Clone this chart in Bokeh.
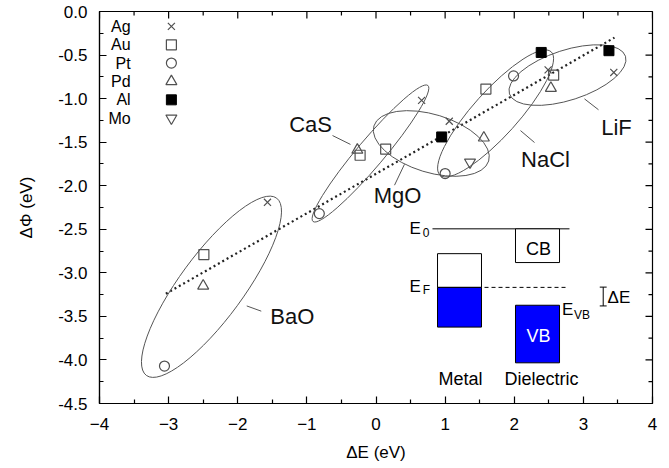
from bokeh.plotting import figure
from bokeh.models import Range1d, FixedTicker, NumeralTickFormatter
from bokeh.embed import file_html
from bokeh.resources import INLINE
from bokeh.core.properties import value

FONT = "Liberation Sans"

# ---------------- data ----------------
metals = ["Ag", "Au", "Pt", "Pd", "Al", "Mo"]
ag_x = [-1.57, 0.66, 1.06, 2.49, 3.44]
ag_y = [-2.19, -1.02, -1.26, -0.67, -0.70]
au_x = [-2.49, -0.23, 0.14, 1.59, 2.57]
au_y = [-2.79, -1.65, -1.58, -0.89, -0.73]
pt_x = [-3.06, -0.82, 1.00, 1.99]
pt_y = [-4.07, -2.32, -1.86, -0.74]
pd_x = [-2.50, -0.27, 1.56, 2.53]
pd_y = [-3.15, -1.59, -1.45, -0.88]
al_x = [0.95, 2.39, 3.37]
al_y = [-1.44, -0.47, -0.45]
mo_x = [1.36]
mo_y = [-1.73]

fit_x = [-3.04, 3.45]
fit_y = [-3.24, -0.30]

# dielectric groups (ellipses): centre in data, size in screen px, angle in deg
groups = ["BaO", "CaS", "MgO", "NaCl", "LiF"]
ell_x = [-2.38, -0.08, 0.80, 1.73, 2.77]
ell_y = [-3.16, -1.63, -1.515, -1.17, -0.73]
ell_w = [220, 178, 120, 166, 122]
ell_h = [64, 27, 58, 45, 50]
ell_a = [53.7, 49.8, -17, 48, 18]

grp_lx = [-1.53, -0.947, 0.311, 2.452, 3.479]
grp_ly = [-3.50, -1.30, -2.108, -1.697, -1.333]
grp_align = ["left", "center", "center", "center", "center"]
call_x0 = [-1.87, -0.629, 0.412, 2.09, 3.016]
call_y0 = [-3.38, -1.424, -1.754, -1.367, -1.003]
call_x1 = [-1.66, -0.369, 0.268, 2.293, 3.219]
call_y1 = [-3.44, -1.526, -1.994, -1.504, -1.128]

x_ticks = [-4, -3, -2, -1, 0, 1, 2, 3, 4]
x_minor = [-3.5, -2.5, -1.5, -0.5, 0.5, 1.5, 2.5, 3.5]
y_ticks = [-4.5, -4.0, -3.5, -3.0, -2.5, -2.0, -1.5, -1.0, -0.5, 0.0]
y_minor = [-4.25, -3.75, -3.25, -2.75, -2.25, -1.75, -1.25, -0.75, -0.25]

GRAY = "#505050"
BLUE = "#0000ff"

X0, X1, Y0, Y1 = -4, 4, -4.5, 0
W, H = 660, 464
BL, BR, BT, BB = 99, 8, 11, 57
FW, FH = W - BL - BR, H - BT - BB
DX = (X1 - X0) / FW   # data units per px
DY = (Y1 - Y0) / FH

p = figure(width=W, height=H, x_range=Range1d(X0, X1), y_range=Range1d(Y0, Y1),
           output_backend="svg", toolbar_location=None,
           min_border_left=BL, min_border_right=BR, min_border_top=BT, min_border_bottom=BB)
p.xgrid.visible = False
p.ygrid.visible = False
p.outline_line_color = "black"
p.outline_line_width = 1.2
p.background_fill_color = "white"

xt = FixedTicker(ticks=x_ticks, minor_ticks=x_minor)
yt = FixedTicker(ticks=y_ticks, minor_ticks=y_minor)

MAJ, MIN = 7, 4
for ax in (p.xaxis[0], p.yaxis[0]):
    ax.major_tick_in = MAJ
    ax.major_tick_out = 0
    ax.minor_tick_in = MIN
    ax.minor_tick_out = 0
    ax.axis_line_color = "black"
    ax.axis_line_width = 1.2
    ax.major_tick_line_width = 1.2
    ax.minor_tick_line_width = 1.2
    ax.major_label_text_font = FONT
    ax.major_label_text_font_size = "17px"
    ax.major_label_text_color = "black"
    ax.axis_label_text_font = FONT
    ax.axis_label_text_font_size = "17px"
    ax.axis_label_text_font_style = "normal"
    ax.axis_label_text_color = "black"

p.xaxis.ticker = xt
p.yaxis.ticker = yt
p.yaxis.formatter = NumeralTickFormatter(format="0.0")
p.xaxis.axis_label = "ΔE (eV)"
p.yaxis.axis_label = "ΔΦ (eV)"
p.xaxis.major_label_standoff = 14
p.yaxis.major_label_standoff = 12
p.xaxis.axis_label_standoff = 10
p.yaxis.axis_label_standoff = 19

# mirrored inward ticks on top and right edges
tk = dict(line_color="black", line_width=1.2)
p.segment(x0=x_ticks, y0=[Y1] * len(x_ticks), x1=x_ticks, y1=[Y1 - MAJ * DY] * len(x_ticks), **tk)
p.segment(x0=x_minor, y0=[Y1] * len(x_minor), x1=x_minor, y1=[Y1 - MIN * DY] * len(x_minor), **tk)
p.segment(x0=[X1] * len(y_ticks), y0=y_ticks, x1=[X1 - MAJ * DX] * len(y_ticks), y1=y_ticks, **tk)
p.segment(x0=[X1] * len(y_minor), y0=y_minor, x1=[X1 - MIN * DX] * len(y_minor), y1=y_minor, **tk)

# ---------------- fit line ----------------
p.line(fit_x, fit_y, line_color="#222222", line_width=2.2, line_dash="2 3")

# ---------------- ellipses ----------------
p.ellipse(x=ell_x, y=ell_y, width=ell_w, height=ell_h, angle=ell_a, angle_units="deg",
          width_units="screen", height_units="screen",
          fill_color=None, line_color="#555555", line_width=1)
p.segment(x0=call_x0, y0=call_y0, x1=call_x1, y1=call_y1, line_color="#555555", line_width=1)
for i in range(len(groups)):
    p.text(x=[grp_lx[i]], y=[grp_ly[i]], text=[groups[i]], text_font=value(FONT),
           text_font_size="22px", text_align=grp_align[i], text_baseline="middle",
           text_color="#111111")

# ---------------- data markers ----------------
mk = dict(line_color=GRAY, line_width=1.2, fill_color=None)
p.scatter(ag_x, ag_y, marker="x", size=10, **mk)
p.scatter(au_x, au_y, marker="square", size=10, **mk)
p.scatter(pt_x, pt_y, marker="circle", size=10, **mk)
p.scatter(pd_x, pd_y, marker="triangle", size=11, **mk)
p.scatter(al_x, al_y, marker="square", size=10, line_color="black", fill_color="black")
p.scatter(mo_x, mo_y, marker="inverted_triangle", size=11, **mk)

# ---------------- legend (label then marker) ----------------
leg_y = [-0.171, -0.382, -0.592, -0.803, -1.014, -1.225]
leg_lx = -3.55
leg_mx = -2.96
p.text(x=[leg_lx] * 6, y=leg_y, text=metals, text_font=value(FONT), text_font_size="16px",
       text_align="right", text_baseline="middle", text_color="black")
p.scatter([leg_mx], [leg_y[0]], marker="x", size=10, **mk)
p.scatter([leg_mx], [leg_y[1]], marker="square", size=10, **mk)
p.scatter([leg_mx], [leg_y[2]], marker="circle", size=10, **mk)
p.scatter([leg_mx], [leg_y[3]], marker="triangle", size=11, **mk)
p.scatter([leg_mx], [leg_y[4]], marker="square", size=10, line_color="black", fill_color="black")
p.scatter([leg_mx], [leg_y[5]], marker="inverted_triangle", size=11, **mk)

# ---------------- inset: energy level schematic ----------------
E0_y = -2.495
EF_y = -3.167
p.segment(x0=[0.817], y0=[E0_y], x1=[2.799], y1=[E0_y], line_color="black", line_width=1)
# CB box
p.quad(left=[2.018], right=[2.655], top=[E0_y], bottom=[-2.882],
       fill_color="white", line_color="black", line_width=1)
# metal box
p.quad(left=[0.890], right=[1.526], top=[-2.780], bottom=[EF_y],
       fill_color="white", line_color="black", line_width=1)
p.quad(left=[0.890], right=[1.526], top=[EF_y], bottom=[-3.623],
       fill_color=BLUE, line_color="black", line_width=1)
# VB box
p.quad(left=[2.018], right=[2.655], top=[-3.372], bottom=[-4.033],
       fill_color=BLUE, line_color="black", line_width=1)
# Fermi level dashed
p.segment(x0=[1.570], y0=[EF_y], x1=[2.770], y1=[EF_y], line_color="black",
          line_width=1, line_dash="4 3")
# Delta E bracket
p.segment(x0=[3.287, 3.237, 3.237], y0=[-3.164, -3.164, -3.380],
          x1=[3.287, 3.337, 3.337], y1=[-3.380, -3.164, -3.380],
          line_color="black", line_width=1)

t = dict(text_font=value(FONT), text_baseline="middle", text_color="black")
p.text(x=[0.485], y=[E0_y], text=["E"], text_font_size="17px", text_align="left", **t)
p.text(x=[0.675], y=[-2.535], text=["0"], text_font_size="12px", text_align="left", **t)
p.text(x=[0.485], y=[-3.156], text=["E"], text_font_size="17px", text_align="left", **t)
p.text(x=[0.675], y=[-3.195], text=["F"], text_font_size="12px", text_align="left", **t)
p.text(x=[2.69], y=[-3.418], text=["E"], text_font_size="17px", text_align="left", **t)
p.text(x=[2.865], y=[-3.486], text=["VB"], text_font_size="12px", text_align="left", **t)
p.text(x=[3.35], y=[-3.28], text=["ΔE"], text_font_size="17px", text_align="left", **t)
p.text(x=[2.351], y=[-2.723], text=["CB"], text_font_size="18px", text_align="center", **t)
p.text(x=[2.351], y=[-3.725], text=["VB"], text_font_size="18px", text_align="center",
       text_font=value(FONT), text_baseline="middle", text_color="white")
p.text(x=[1.222], y=[-4.215], text=["Metal"], text_font_size="18px", text_align="center", **t)
p.text(x=[2.394], y=[-4.215], text=["Dielectric"], text_font_size="18px", text_align="center", **t)

open("out.html", "w").write(file_html(p, INLINE))
